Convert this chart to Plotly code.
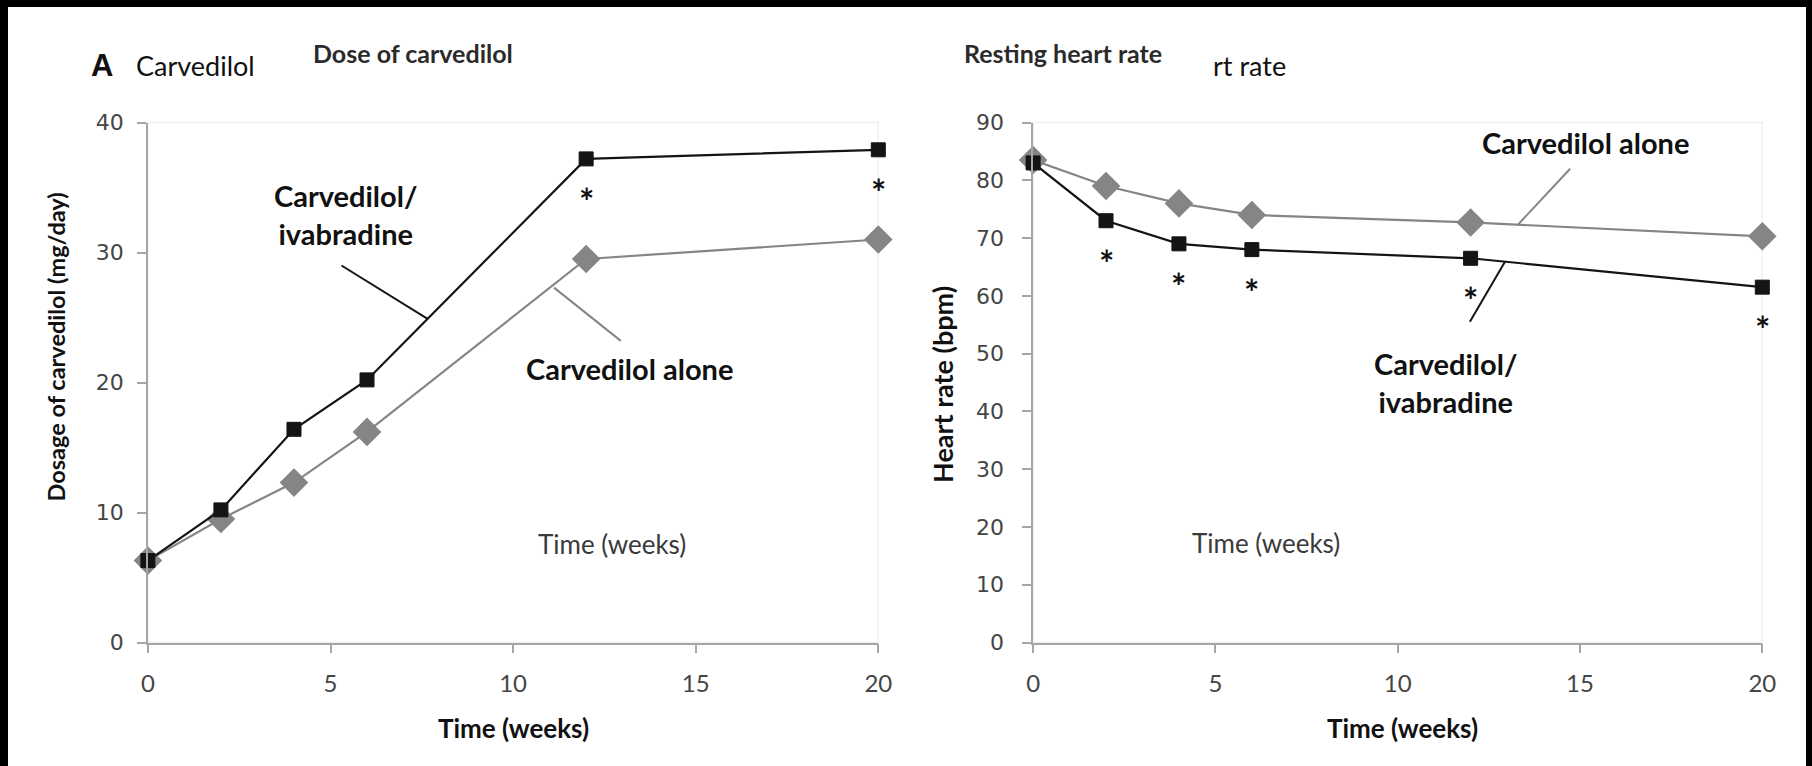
import plotly.graph_objects as go

# ---- data -------------------------------------------------------------
weeks = [0, 2, 4, 6, 12, 20]

dose_combo = [6.3, 10.2, 16.4, 20.2, 37.2, 37.9]   # carvedilol/ivabradine
dose_alone = [6.3, 9.5, 12.3, 16.2, 29.5, 31.0]    # carvedilol alone

hr_combo = [83.0, 73.0, 69.0, 68.0, 66.5, 61.5]    # carvedilol/ivabradine
hr_alone = [83.5, 79.0, 76.0, 74.0, 72.7, 70.3]    # carvedilol alone

dose_sig_weeks = [12, 20]          # weeks flagged with *
hr_sig_weeks = [2, 4, 6, 12, 20]

x_ticks = [0, 5, 10, 15, 20]
dose_ticks = [0, 10, 20, 30, 40]
hr_ticks = [0, 10, 20, 30, 40, 50, 60, 70, 80, 90]

# ---- styling ----------------------------------------------------------
W, H = 1812, 766
LABEL_FONT = "Lato, Carlito, 'Open Sans', sans-serif"
TICK_Y_FONT = "'DejaVu Sans', Verdana, sans-serif"
AXIS_GREY = "#a6a6a6"
BLACK = "#141414"
GREY = "#858585"


def fx(x):
    return x / W


def fy(y):
    return 1 - y / H


fig = go.Figure()


def add_panel(xa, ya, combo, alone):
    fig.add_trace(go.Scatter(
        x=weeks, y=alone, mode="lines+markers", xaxis=xa, yaxis=ya,
        line=dict(color=GREY, width=2.2),
        marker=dict(symbol="diamond", size=22, color=GREY),
        cliponaxis=False, showlegend=False, hoverinfo="x+y"))
    fig.add_trace(go.Scatter(
        x=weeks, y=combo, mode="lines+markers", xaxis=xa, yaxis=ya,
        line=dict(color=BLACK, width=2.2),
        marker=dict(symbol="square", size=14, color=BLACK,
                    line=dict(color=BLACK, width=1)),
        cliponaxis=False, showlegend=False, hoverinfo="x+y"))


add_panel("x", "y", dose_combo, dose_alone)
add_panel("x2", "y2", hr_combo, hr_alone)

axis_common = dict(
    showline=True, linecolor=AXIS_GREY, linewidth=1.6,
    ticks="outside", ticklen=9, tickwidth=1.6, tickcolor=AXIS_GREY,
    showgrid=False, zeroline=False, fixedrange=True, automargin=False,
)
xaxis_common = dict(axis_common, range=[0, 20], tickvals=x_ticks,
                    tickfont=dict(family=LABEL_FONT, size=24, color="#454545"),
                    ticklabelstandoff=10)
yaxis_common = dict(axis_common,
                    tickfont=dict(family=TICK_Y_FONT, size=22, color="#454545"))

y_dom = [fy(642.5), fy(122.5)]
fig.update_layout(
    width=W, height=H,
    margin=dict(l=0, r=0, t=0, b=0, pad=0, autoexpand=False),
    paper_bgcolor="white", plot_bgcolor="white",
    xaxis=dict(xaxis_common, domain=[fx(147.9), fx(878.3)], anchor="y"),
    yaxis=dict(yaxis_common, domain=y_dom, range=[0, 40], tickvals=dose_ticks,
               anchor="x", ticklabelstandoff=9),
    xaxis2=dict(xaxis_common, domain=[fx(1033.1), fx(1762.3)], anchor="y2"),
    yaxis2=dict(yaxis_common, domain=y_dom, range=[0, 90], tickvals=hr_ticks,
                anchor="x2", ticklabelstandoff=14),
)

ann = []


def text(x, y, s, size, color="#111111", bold=False, xref="paper", yref="paper",
         family=LABEL_FONT, angle=0, **kw):
    if bold:
        s = f"<b>{s}</b>"
    d = dict(x=x, y=y, xref=xref, yref=yref, text=s, showarrow=False,
             font=dict(family=family, size=size, color=color),
             xanchor="center", yanchor="middle", textangle=angle)
    d.update(kw)
    ann.append(d)


# titles
text(fx(101.7), fy(66), "A", 31, bold=True, family="'Liberation Sans', Arial, sans-serif")
text(fx(195), fy(66), "Carvedilol", 27, color="#111111")
text(fx(412.5), fy(53), "Dose of carvedilol", 25, color="#2b2b2b", bold=True)
text(fx(1063), fy(53), "Resting heart rate", 25, color="#2b2b2b", bold=True)
text(fx(1249), fy(66), "rt rate", 27, color="#111111")

# axis titles
text(fx(513), fy(728), "Time (weeks)", 26, bold=True)
text(fx(1402), fy(728), "Time (weeks)", 26, bold=True)
text(fx(55.5), fy(347), "Dosage of carvedilol (mg/day)", 23.5, bold=True, angle=-90)
text(fx(942), fy(385), "Heart rate (bpm)", 27, bold=True, angle=-90)

# series labels (left panel)
text(5.42, 32.9, "Carvedilol/<br>ivabradine", 29, bold=True, xref="x", yref="y")
text(13.2, 21.1, "Carvedilol alone", 29, bold=True, xref="x", yref="y")
text(12.7, 7.6, "Time (weeks)", 26, color="#3a3a3a", xref="x", yref="y")

# series labels (right panel)
text(15.15, 86.5, "Carvedilol alone", 29, bold=True, xref="x2", yref="y2")
text(11.3, 45.0, "Carvedilol/<br>ivabradine", 29, bold=True, xref="x2", yref="y2")
text(6.4, 17.2, "Time (weeks)", 26, color="#3a3a3a", xref="x2", yref="y2")

# significance markers under the combination series
for wk in dose_sig_weeks:
    text(wk, dose_combo[weeks.index(wk)], "*", 36, bold=True, xref="x", yref="y",
         yshift=-42)
for wk in hr_sig_weeks:
    text(wk, hr_combo[weeks.index(wk)], "*", 36, bold=True, xref="x2", yref="y2",
         yshift=-42)

fig.update_layout(annotations=ann)

shapes = [
    # leader lines
    dict(type="line", xref="x", yref="y", x0=5.3, y0=29.0, x1=7.66, y1=24.9,
         line=dict(color=BLACK, width=2)),
    dict(type="line", xref="x", yref="y", x0=11.12, y0=27.3, x1=12.95, y1=23.2,
         line=dict(color=GREY, width=2)),
    dict(type="line", xref="x2", yref="y2", x0=14.73, y0=82.0, x1=13.28, y1=72.2,
         line=dict(color=GREY, width=2)),
    dict(type="line", xref="x2", yref="y2", x0=12.95, y0=66.0, x1=11.98, y1=55.5,
         line=dict(color=BLACK, width=2)),
    # faint plot-area outline
    dict(type="rect", xref="x domain", yref="y domain", x0=0, y0=0, x1=1, y1=1,
         line=dict(color="#f0f0f0", width=1.5), layer="below"),
    dict(type="rect", xref="x2 domain", yref="y2 domain", x0=0, y0=0, x1=1, y1=1,
         line=dict(color="#f0f0f0", width=1.5), layer="below"),
    # black frame on the left, top and right edges
    dict(type="rect", xref="paper", yref="paper", x0=0, x1=fx(8), y0=0, y1=1,
         fillcolor="black", line=dict(width=0)),
    dict(type="rect", xref="paper", yref="paper", x0=0, x1=1, y0=fy(7), y1=1,
         fillcolor="black", line=dict(width=0)),
    dict(type="rect", xref="paper", yref="paper", x0=fx(1806), x1=1, y0=0, y1=1,
         fillcolor="black", line=dict(width=0)),
]
fig.update_layout(shapes=shapes)

fig.write_html("out.html")
